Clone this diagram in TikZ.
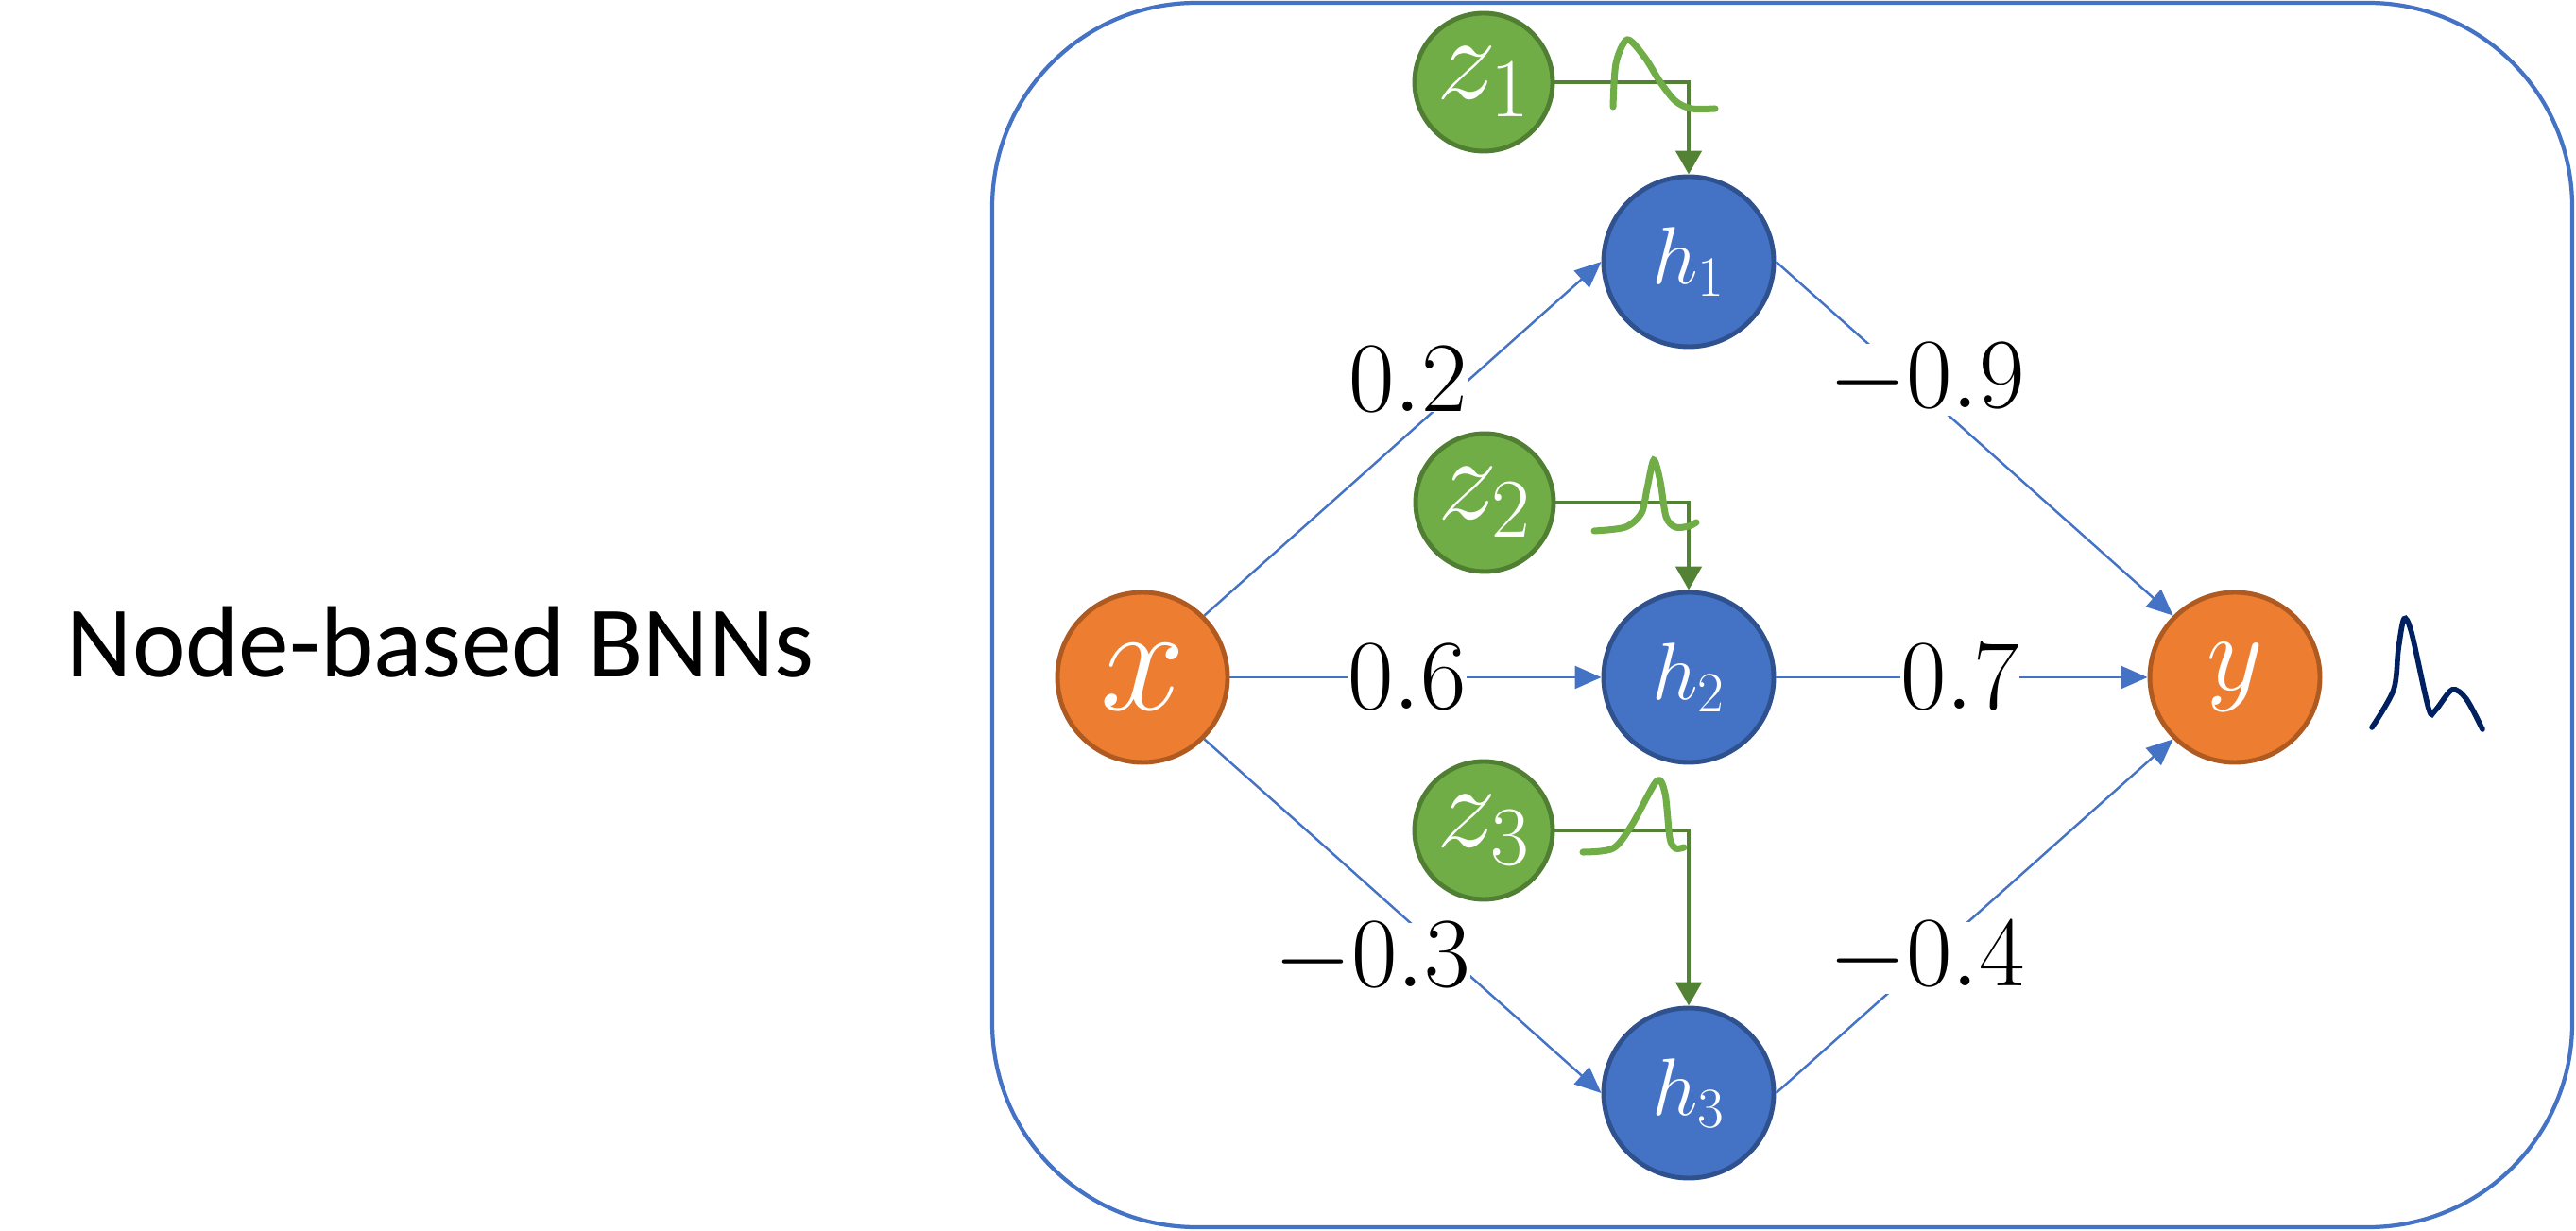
\RequirePackage{fix-cm}
\documentclass[tikz,border=0pt]{standalone}
\usepackage[no-math]{fontspec}
\newfontfamily\captionfont{Carlito}
\usepackage{amsmath}
\usetikzlibrary{arrows.meta, positioning}

\definecolor{nodeorange}{HTML}{ED7D31}
\definecolor{orangeline}{HTML}{AE5A21}
\definecolor{nodeblue}{HTML}{4472C4}
\definecolor{blueline}{HTML}{2F528F}
\definecolor{nodegreen}{HTML}{70AD47}
\definecolor{greenline}{HTML}{507E32}
\definecolor{arrowgreen}{HTML}{548235}
\definecolor{darknavy}{HTML}{002060}

\begin{document}
\begin{tikzpicture}[
    unit/.style={circle, minimum size=1.80cm, inner sep=0pt, line width=1.4pt, text=white},
    ionode/.style={unit, fill=nodeorange, draw=orangeline},
    hidnode/.style={unit, fill=nodeblue, draw=blueline, font=\fontsize{24.5}{28}\selectfont},
    znode/.style={unit, minimum size=1.46cm, fill=nodegreen, draw=greenline, font=\fontsize{36}{40}\selectfont},
    wedge/.style={nodeblue, line width=0.7pt, -{Triangle[length=0.28cm, width=0.24cm]}},
    wlabel/.style={fill=white, inner sep=0pt, font=\fontsize{30}{34}\selectfont},
    zarrow/.style={arrowgreen, line width=1.4pt, -{Triangle[length=0.25cm, width=0.27cm]}},
    density/.style={nodegreen, line width=2pt, line cap=round}
]

% Canvas and frame
\useasboundingbox (0,0) rectangle (27.26,13.02);
\draw[nodeblue, line width=1.2pt, rounded corners=2.16cm] (10.50,0.03) rectangle (27.22,12.99);

% Caption
\node[anchor=base, font=\captionfont\fontsize{30.5}{34}\selectfont] (caption) at (4.66,5.85) {Node-based BNNs};

% Input, hidden and output units
\node[ionode, font=\fontsize{46}{50}\selectfont] (x) at (12.09,5.85) {$x$};
\node[hidnode] (h1) at (17.87,10.25) {$h_1$};
\node[hidnode] (h2) at (17.87,5.85) {$h_2$};
\node[hidnode] (h3) at (17.87,1.45) {$h_3$};
\node[ionode, font=\fontsize{33}{37}\selectfont] (y) at (23.65,5.85) {$y$};

% Noise units
\node[znode] (z1) at (15.70,12.15) {$z_1$};
\node[znode] (z2) at (15.71,7.70) {$z_2$};
\node[znode] (z3) at (15.70,4.23) {$z_3$};

% Weighted connections
\foreach \s/\t in {x.north east/h1.west, x.east/h2.west, x.south east/h3.west,
                   h1.east/y.north west, h2.east/y.west, h3.east/y.south west}
{
    \draw[wedge] (\s) -- (\t);
}

% Weight labels
\foreach \n/\px/\py/\w in {w1/14.90/9.00/0.2, w2/14.89/5.85/0.6, w3/14.52/2.87/-0.3,
                           w4/20.39/9.00/-0.9, w5/20.74/5.85/0.7, w6/20.39/2.88/-0.4}
{
    \node[wlabel] (\n) at (\px,\py) {$\w$};
}

% Noise injection
\foreach \z/\h in {z1/h1, z2/h2, z3/h3}
{
    \draw[zarrow] (\z) -| (\h);
}

% Noise densities
\draw[density] plot[smooth] coordinates {(17.07,11.89) (17.10,12.35) (17.22,12.60) (17.40,12.42)
    (17.57,12.15) (17.73,11.95) (17.90,11.87) (18.15,11.87)};
\draw[density] plot[smooth] coordinates {(16.87,7.40) (17.20,7.44) (17.37,7.59) (17.43,7.85)
    (17.50,8.15) (17.57,7.92) (17.63,7.55) (17.73,7.44) (17.87,7.45) (17.95,7.49)};
\draw[density] plot[smooth] coordinates {(16.75,4.00) (17.07,4.04) (17.27,4.29) (17.53,4.75)
    (17.62,4.62) (17.67,4.15) (17.73,4.04) (17.82,4.05)};

% Predictive density
\draw[darknavy, line width=1.6pt, line cap=round] plot[smooth] coordinates {(25.10,5.32) (25.33,5.72)
    (25.38,6.15) (25.44,6.47) (25.52,6.32) (25.70,5.52) (25.77,5.50) (25.95,5.72) (26.10,5.62) (26.27,5.30)};

\end{tikzpicture}
\end{document}
